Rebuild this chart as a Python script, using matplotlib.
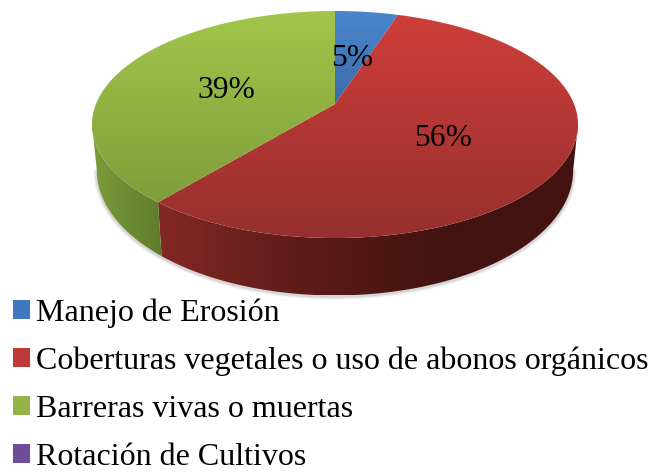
import numpy as np
import matplotlib
matplotlib.use("Agg")
import matplotlib.pyplot as plt
from matplotlib.patches import Patch, Polygon
from matplotlib.colors import LinearSegmentedColormap as LSC

categories = ["Manejo de Erosión",
              "Coberturas vegetales o uso de abonos orgánicos",
              "Barreras vivas o muertas",
              "Rotación de Cultivos"]
shares = [5, 56, 39, 0]

legend_colors = ["#3F78BC", "#BE3A36", "#94B546", "#6F4C9A"]
top_grad = [("#4A86CC", "#3A6CA8"), ("#CF3E3A", "#96302E"), ("#A2C64A", "#7F9E3A"), ("#7F5AAE", "#5E4088")]
side_grad = [("#2F5A8C", "#2F5A8C"), ("#842824", "#5E1C19", "#431311", "#431311"),
             ("#7D9C3A", "#5F7C2C"), ("#5E4088", "#5E4088")]
label_xy = {0: (352, 58), 1: (443, 138), 2: (226.5, 90)}

# projection of the pie's unit circle to picture pixels
CX, CY, A, B, K = 335.0, 104.0, 239.0, 109.8, 0.1807
LOW_SX, LOW_SY, LOW_CY = 0.98, 1.10, 148.0


def top_pt(theta):
    x, y = np.sin(theta), np.cos(theta)
    d = 1 + K * y
    return np.c_[CX + A * x / d, CY - B * y / d]


def low_pt(theta):
    p = top_pt(theta)
    return np.c_[CX + LOW_SX * (p[:, 0] - CX), LOW_CY + LOW_SY * (p[:, 1] - CY)]


fig = plt.figure(figsize=(6.49, 4.72), dpi=100, facecolor="white")
ax = fig.add_axes([0, 0, 1, 1])


def fill_grad(poly, colors, vertical):
    xs, ys = poly[:, 0], poly[:, 1]
    grad = np.linspace(0, 1, 256)
    grad = grad.reshape(-1, 1) if vertical else grad.reshape(1, -1)
    cmap = LSC.from_list("g", list(colors))
    im = ax.imshow(grad, cmap=cmap, aspect="auto", interpolation="bilinear",
                   extent=(xs.min(), xs.max(), ys.max(), ys.min()), zorder=3)
    patch = Polygon(poly, closed=True, transform=ax.transData, fc="none", ec="none")
    ax.add_patch(patch)
    im.set_clip_path(patch)


fractions = np.array(shares, dtype=float) / sum(shares)
edges = np.r_[0, np.cumsum(fractions)] * 2 * np.pi

# silhouette limits of the front wall
front0 = np.arccos(-K)
front1 = 2 * np.pi - front0

# soft shadow along the lower rim
rim = np.linspace(front0, front1, 300)
lp = low_pt(rim)
for w, al in [(7, 0.06), (5, 0.10), (3, 0.16)]:
    ax.plot(lp[:, 0], lp[:, 1] + 1, color="#777777", lw=w * 0.72, alpha=al, zorder=1,
            solid_capstyle="round")

# side walls, visible front part only
for i in range(len(shares)):
    t0, t1 = max(edges[i], front0), min(edges[i + 1], front1)
    if t1 <= t0:
        continue
    t = np.linspace(t0, t1, 200)
    poly = np.r_[top_pt(t), low_pt(t)[::-1]]
    fill_grad(poly, side_grad[i], vertical=False)

# top faces
for i in range(len(shares)):
    if shares[i] == 0:
        continue
    t = np.linspace(edges[i], edges[i + 1], 300)
    poly = np.r_[[[CX, CY]], top_pt(t)]
    fill_grad(poly, top_grad[i], vertical=True)

for i, (x, y) in label_xy.items():
    ax.text(x, y, f"{shares[i]}%", ha="center", va="center", fontsize=22.8,
            family="Liberation Serif", color="black", zorder=5)

handles = [Patch(fc=c, ec="none", label=n) for c, n in zip(legend_colors, categories)]
FS = 23.05
leg = ax.legend(handles=handles, loc="upper left", bbox_to_anchor=(13, 298),
                bbox_transform=ax.transData, frameon=False,
                prop={"family": "Liberation Serif", "size": FS},
                handlelength=0.53, handleheight=0.53, handletextpad=0.19,
                labelspacing=0.59, borderpad=0, borderaxespad=0)
leg.set_zorder(6)

ax.set_xlim(0, 649)
ax.set_ylim(472, 0)
ax.axis("off")
fig.savefig("out.png", dpi=100, facecolor="white")
